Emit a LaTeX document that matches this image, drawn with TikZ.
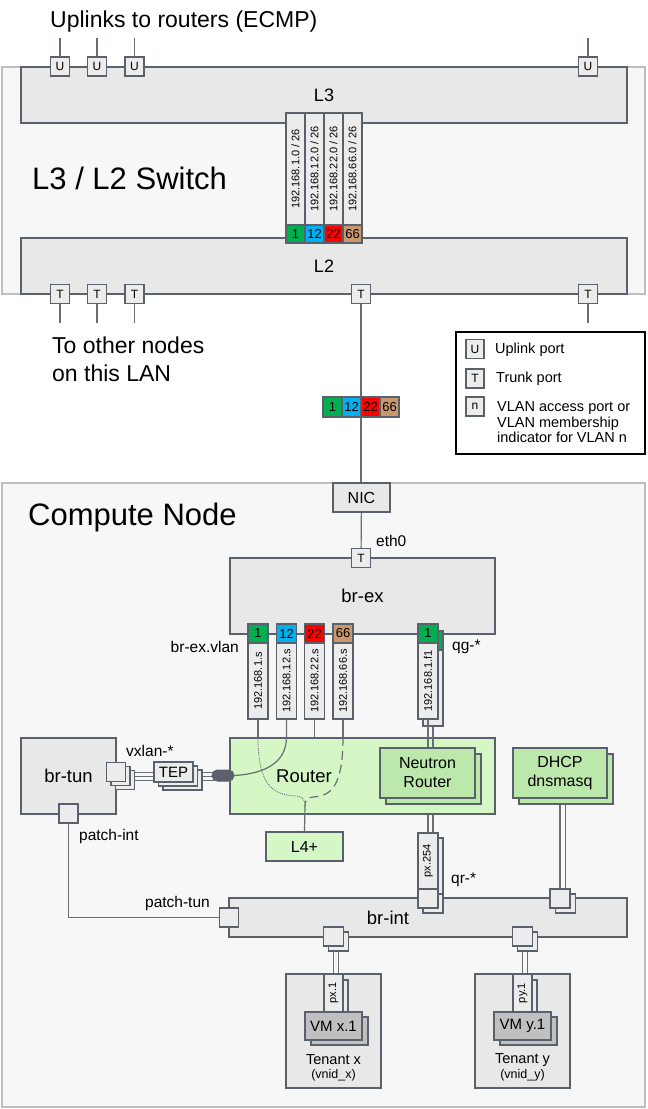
\documentclass[tikz,border=0pt]{standalone}
\usepackage{fontspec}
\setmainfont{Liberation Sans}
\usetikzlibrary{calc,shapes.misc}
\pgfdeclarelayer{back}
\pgfdeclarelayer{under}
\pgfsetlayers{back,under,main}
\definecolor{dk}{HTML}{58616C}
\definecolor{boxg}{HTML}{E8E8E8}
\definecolor{portg}{HTML}{ECECEC}
\definecolor{outg}{HTML}{F7F7F7}
\definecolor{outb}{HTML}{BEBEBE}
\definecolor{ln}{HTML}{676E76}
\definecolor{vgreen}{HTML}{00B050}
\definecolor{vblue}{HTML}{00B0F0}
\definecolor{vred}{HTML}{FF0000}
\definecolor{vtan}{HTML}{C8976B}
\definecolor{rgreen}{HTML}{D5F6C5}
\definecolor{ngreen}{HTML}{BDE8AB}
\definecolor{vmg}{HTML}{C0C0C0}
\newcommand\fsz[2]{\fontsize{#1}{#2}\selectfont}
\begin{document}
\begin{tikzpicture}[x=1pt,y=-1pt,
  container/.style={draw=outb, line width=2.5pt, fill=outg, inner sep=0pt},
  bigbox/.style={draw=dk, line width=2.4pt, fill=boxg, inner sep=0pt},
  port/.style={draw=dk, line width=1.3pt, fill=portg, minimum width=19pt, minimum height=19pt, inner sep=0pt, font=\fsz{12}{14}},
  vlan/.style={draw=dk, line width=1.3pt, minimum width=19pt, minimum height=19pt, inner sep=0pt, font=\fsz{13}{15}},
  tab/.style={draw=dk, line width=1.3pt, fill=portg, minimum width=19pt, inner sep=0pt},
  tabtxt/.style={rotate=90, inner sep=0pt, font=\fsz{11}{13}},
  conn/.style={draw=ln, line width=1.2pt},
  lbl/.style={inner sep=0pt, font=\fsz{15.5}{18}},
  legtxt/.style={inner sep=0pt, font=\fsz{14.5}{15.5}, align=left},
  gbox/.style={draw=dk, line width=1.5pt, fill=ngreen, inner sep=0pt},
]
\useasboundingbox (0,0) rectangle (648,1109);

% ---------- containers
\begin{pgfonlayer}{back}
\node[container, minimum width=643pt, minimum height=227pt] (sw) at (323.5,180.5) {};
\node[container, minimum width=643pt, minimum height=624pt] (cn) at (323.5,795) {};
\end{pgfonlayer}

% ---------- switch
\node[inner sep=0pt, font=\fsz{23}{28}, anchor=base west] (uplt) at (50,27) {Uplinks to routers (ECMP)};
\node[bigbox, minimum width=606pt, minimum height=56pt, font=\fsz{18}{20}] (l3) at (324,95) {L3};
\node[bigbox, minimum width=606pt, minimum height=56pt, font=\fsz{18}{20}] (l2) at (324,266) {L2};
\node[inner sep=0pt, anchor=base west, font=\fsz{31}{36}] (swt) at (32,189) {L3 / L2 Switch};

\foreach \n/\x in {u1/60,u2/97,u3/134.5,u4/588}{
  \node[port] (\n) at (\x,66.5) {U};
  \coordinate (\n-up) at (\x,38);
  \draw[conn] (\n) -- (\n-up);
}
\foreach \n/\x in {t1/60,t2/97,t3/134.5,t5/588}{
  \node[port] (\n) at (\x,294) {T};
  \coordinate (\n-dn) at (\x,323);
  \draw[conn] (\n) -- (\n-dn);
}
\node[port] (t4) at (361,294) {T};

\node[tab, minimum height=112pt] (s1) at (295.5,169) {};
\node[tabtxt] at (s1) {192.168.1.0 / 26};
\node[tab, minimum height=112pt] (s2) at (314.5,169) {};
\node[tabtxt] at (s2) {192.168.12.0 / 26};
\node[tab, minimum height=112pt] (s3) at (333.5,169) {};
\node[tabtxt] at (s3) {192.168.22.0 / 26};
\node[tab, minimum height=112pt] (s4) at (352.5,169) {};
\node[tabtxt] at (s4) {192.168.66.0 / 26};
\node[vlan, fill=vgreen, minimum height=18pt] (sv1) at (295.5,234) {1};
\node[vlan, fill=vblue, minimum height=18pt] (sv2) at (314.5,234) {12};
\node[vlan, fill=vred, minimum height=18pt] (sv3) at (333.5,234) {22};
\node[vlan, fill=vtan, minimum height=18pt] (sv4) at (352.5,234) {66};

\node[inner sep=0pt, anchor=base west, font=\fsz{23}{28}] (oth1) at (52,353) {To other nodes};
\node[inner sep=0pt, anchor=base west, font=\fsz{23}{28}] (oth2) at (52,381) {on this LAN};

% ---------- legend
\node[draw=black, line width=1.2pt, fill=white, minimum width=189pt, minimum height=122pt, inner sep=0pt] (leg) at (550.5,393) {};
\node[port, minimum width=18pt, minimum height=19pt] (lu) at (475,349) {U};
\node[port, minimum width=18pt, minimum height=19pt] (lt) at (475,378.5) {T};
\node[port, minimum width=18pt, minimum height=19pt] (ln) at (475,406.5) {n};
\node[legtxt, anchor=west] at (495,350) {Uplink port};
\node[legtxt, anchor=west] at (496,379) {Trunk port};
\node[legtxt, anchor=west] at (497,422.5) {VLAN access port or\\VLAN membership\\indicator for VLAN n};

% ---------- NIC and trunk
\node[bigbox, minimum width=57pt, minimum height=29pt, font=\fsz{16}{18}] (nic) at (361.5,497.5) {NIC};
\draw[conn] (t4) -- (t4 |- nic.north);
\node[vlan, fill=vgreen, minimum height=20pt] (m1) at (332.5,407) {1};
\node[vlan, fill=vblue, minimum height=20pt] (m2) at (351.5,407) {12};
\node[vlan, fill=vred, minimum height=20pt] (m3) at (370.5,407) {22};
\node[vlan, fill=vtan, minimum height=20pt] (m4) at (389.5,407) {66};

% ---------- compute node
\node[inner sep=0pt, anchor=base west, font=\fsz{31}{36}] (cnt) at (28,525) {Compute Node};

\node[bigbox, minimum width=265pt, minimum height=76pt, font=\fsz{18.5}{20}] (brex) at (362.5,596) {br-ex};
\node[port] (eth) at (361,558) {T};
\draw[conn] (nic) -- (eth);
\node[lbl, anchor=west] (eth0l) at (376,541) {eth0};

\node[bigbox, fill=rgreen, minimum width=265pt, minimum height=76pt] (rt) at (362.5,776) {};
\node[inner sep=0pt, font=\fsz{18.5}{20}] (rtl) at (304,776) {Router};

\foreach \n/\x/\c/\v/\t in {a/258/vgreen/1/192.168.1.s, b/286.5/vblue/12/192.168.12.s, c/314.5/vred/22/192.168.22.s, d/343/vtan/66/192.168.66.s}{
  \node[tab, minimum width=20pt, minimum height=76pt] (x\n) at (\x,681) {};
  \node[tabtxt] at (x\n) {\t};
  \node[vlan, fill=\c, minimum width=20pt] (q\n) at (\x,633.5) {\v};
}
\node[lbl, anchor=east] (vlanl) at (239,647) {br-ex.vlan};

% qg stack
\node[tab, minimum width=20pt, minimum height=76pt] (qgtS) at (433,688) {};
\node[vlan, fill=vgreen, minimum width=20pt] (qgS) at (433,640.5) {};
\node[tab, minimum width=20pt, minimum height=76pt] (qgt) at (428,681) {};
\node[tabtxt] at (qgt) {192.168.1.f1};
\node[vlan, fill=vgreen, minimum width=20pt] (qg) at (428,633.5) {1};
\node[lbl, anchor=west] (qgl) at (452,647) {qg-*};

% L4+ and junction
\node[draw=dk, line width=1.5pt, fill=rgreen, minimum width=77pt, minimum height=29pt, inner sep=0pt, font=\fsz{16}{18}] (l4) at (304.5,846.5) {L4+};
\coordinate (l4j) at (305,806);

% capsule
\node[draw=dk, fill=dk, line width=1pt, rounded rectangle, minimum width=22pt, minimum height=11pt, inner sep=0pt] (cap) at (223,775.5) {};

% tab lines into router
\draw[conn] (xa.south) -- (xa.south |- rt.north) coordinate (ta);
\draw[conn] (xb.south) -- (xb.south |- rt.north) .. controls +(0,25) and +(32,-2) .. (cap.east);
\draw[conn] (xc.south) -- (xc.south |- rt.north);
\draw[conn] (xd.south) -- (xd.south |- rt.north) coordinate (td);
\draw[draw=ln, line width=0.9pt, densely dotted] (ta) .. controls +(0,52) and +(-22,-1) .. (297,796) .. controls +(6,1) and +(0,-6) .. (l4j);
\draw[draw=ln, line width=1.2pt, dash pattern=on 9pt off 5pt] (td) .. controls +(0,50) and +(18,-1) .. (313,797) .. controls +(-6,0.5) and +(0,-6) .. (l4j);
\draw[conn] (l4j) -- (l4.north);

% neutron router
\node[gbox, minimum width=95pt, minimum height=50pt] (nrS) at (433.5,779) {};
\node[gbox, minimum width=95pt, minimum height=50pt, align=center, font=\fsz{16}{19}] (nr) at (427.5,773) {Neutron\\Router};
\draw[conn] (qgt.south) -- (qgt.south |- nr.north);
\draw[conn] (qgtS.south) -- (qgtS.south |- nr.north);

% DHCP
\node[gbox, minimum width=94pt, minimum height=50pt] (dhS) at (566,779) {};
\node[gbox, minimum width=94pt, minimum height=50pt, align=center, font=\fsz{16}{19}] (dh) at (560,773) {DHCP\\dnsmasq};

% br-int
\node[bigbox, minimum width=398pt, minimum height=39pt] (brint) at (428,917.5) {};
\node[inner sep=0pt, font=\fsz{18.5}{20}] (brintl) at (388,918) {br-int};

% qr stack
\node[tab, minimum width=20pt, minimum height=56pt] (pxtS) at (433,866) {};
\node[port, minimum width=20pt] (qrS) at (433,903.5) {};
\node[tab, minimum width=20pt, minimum height=56pt] (pxt) at (428,861) {};
\node[tabtxt] at (pxt) {px.254};
\node[port, minimum width=20pt] (qr) at (428,898.5) {};
\node[lbl, anchor=west] (qrl) at (451,880) {qr-*};
\begin{pgfonlayer}{under}
\draw[conn] (pxt.north |- nr.south) -- (pxt.north);
\draw[conn] (pxtS.north |- nrS.south) -- (pxtS.north);
\end{pgfonlayer}

% DHCP port
\node[port, minimum width=20pt] (dpS) at (565.5,903.5) {};
\node[port, minimum width=20pt] (dp) at (560,898.5) {};
\begin{pgfonlayer}{under}
\draw[conn] (dp.north |- dh.south) -- (dp.north);
\draw[conn] (dpS.north |- dhS.south) -- (dpS.north);
\end{pgfonlayer}

% br-tun
\node[bigbox, minimum width=95pt, minimum height=76pt, font=\fsz{18.5}{20}] (brtun) at (68.5,776) {br-tun};
\node[port] (pint) at (68.5,813.5) {};
\node[port] (ptun) at (229,917.5) {};
\draw[conn] (pint.south) |- (ptun.west);
\node[lbl, anchor=west] (pintl) at (79,836) {patch-int};
\node[lbl, anchor=east] (ptunl) at (210,903) {patch-tun};

\node[port] (vx3) at (125,780) {};
\node[port] (vx2) at (120.5,776) {};
\node[port] (vx1) at (116,772) {};
\node[lbl, anchor=west] (vxl) at (126,751) {vxlan-*};
\node[draw=dk, line width=1.3pt, fill=portg, minimum width=39pt, minimum height=20pt, inner sep=0pt] (tep3) at (182.5,780) {};
\node[draw=dk, line width=1.3pt, fill=portg, minimum width=39pt, minimum height=20pt, inner sep=0pt] (tep2) at (178,776) {};
\node[draw=dk, line width=1.3pt, fill=portg, minimum width=39pt, minimum height=20pt, inner sep=0pt, font=\fsz{15}{17}] (tep1) at (173.5,772) {TEP};
\begin{pgfonlayer}{under}
\draw[conn, line width=1pt] (vx1.east) -- (tep1.west);
\draw[conn, line width=1pt] (vx2.east) -- (tep2.west);
\draw[conn, line width=1pt] (vx3.east) -- (tep3.west);
\draw[conn, line width=1pt] (tep1.east) -- (tep1.east -| cap.center);
\draw[conn, line width=1pt] (tep2.east) -- (tep2.east -| cap.center);
\draw[conn, line width=1pt] (tep3.east) -- (tep3.east -| cap.center);
\end{pgfonlayer}

% tenants
\foreach \n/\x/\s in {x/333.5/x, y/522.5/y}{
  \node[port, minimum width=20pt] (tp\n S) at (\x+5,941.5) {};
  \node[port, minimum width=20pt] (tp\n) at (\x,936.5) {};
  \node[bigbox, minimum width=95pt, minimum height=114pt] (ten\n) at (\x,1031) {};
  \node[tab, minimum width=19pt, minimum height=38pt] (pv\n S) at (\x+5,999) {};
  \node[tab, minimum width=19pt, minimum height=38pt] (pv\n) at (\x,993) {};
  \node[tabtxt] at (pv\n) {p\s.1};
  \node[draw=dk, line width=1.5pt, fill=vmg, minimum width=57pt, minimum height=28pt, inner sep=0pt] (vm\n S) at (\x+6,1031) {};
  \node[draw=dk, line width=1.5pt, fill=vmg, minimum width=57pt, minimum height=28pt, inner sep=0pt, font=\fsz{15}{17}] (vm\n) at (\x,1026) {VM \s.1};
  \node[inner sep=0pt, font=\fsz{14.5}{17}] (tl\n) at (\x,1060) {Tenant \s};
  \node[inner sep=0pt, font=\fsz{12.5}{15}] (vn\n) at (\x,1075.5) {(vnid\_\s)};
  \begin{pgfonlayer}{under}
  \draw[conn] (tp\n.south) -- (pv\n.north);
  \draw[conn] (tp\n S.south) -- (pv\n S.north);
  \end{pgfonlayer}
}
\end{tikzpicture}
\end{document}
